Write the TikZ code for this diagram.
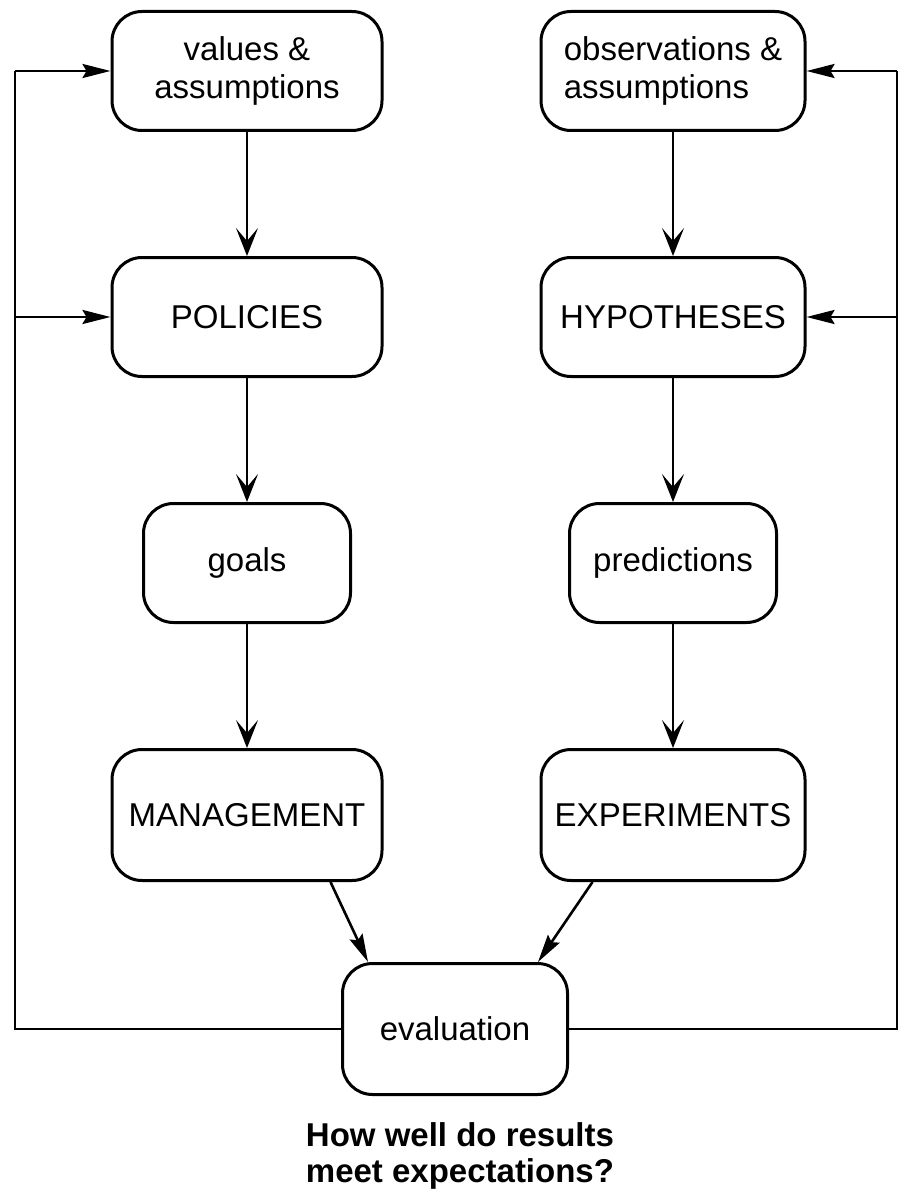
\documentclass[tikz,border=0pt]{standalone}
\usepackage{fontspec}
\setmainfont{Liberation Sans}
\usepackage{tikz}
\usetikzlibrary{positioning,arrows.meta}

\begin{document}
\begin{tikzpicture}[
    x=1pt, y=1pt,
    node distance=124pt,
    box/.style={rectangle, draw, line width=3pt, rounded corners=30pt, minimum width=270pt, minimum height=119pt, align=center, inner sep=0pt, font=\fontsize{33}{38}\selectfont},
    smallbox/.style={box, minimum width=207pt},
    lowbox/.style={box, minimum height=131pt},
    arrow/.style={-{Stealth[length=28pt, width=22pt, inset=13pt]}, line width=2.6pt},
    feedarrow/.style={-{Stealth[length=28pt, width=14pt, inset=4pt]}, line width=2.6pt},
    line/.style={line width=2.6pt}
]
\useasboundingbox (0,0) rectangle (899,-1193);

% Left column
\node[box] (values) at (247,-71) {values \&\\assumptions};
\node[box, below=of values] (policies) {POLICIES};
\node[smallbox, below=of policies] (goals) {goals};
\node[lowbox, below=of goals] (management) {MANAGEMENT};

% Right column
\node[box, align=left, minimum width=264pt] (observations) at (673,-71) {observations \&\\assumptions};
\node[box, minimum width=264pt, below=of observations] (hypotheses) {HYPOTHESES};
\node[smallbox, below=of hypotheses] (predictions) {predictions};
\node[lowbox, minimum width=264pt, below=of predictions] (experiments) {EXPERIMENTS};

% Bottom
\node[lowbox, minimum width=225pt] (evaluation) at (455,-1029) {evaluation};
\node[align=left, font=\fontsize{33}{36}\selectfont\bfseries] (question) at (460,-1156) {How well do results\\meet expectations?};

% Arrows down the columns
\draw[arrow] (values) -- (policies);
\draw[arrow] (policies) -- (goals);
\draw[arrow] (goals) -- (management);
\draw[arrow] (observations) -- (hypotheses);
\draw[arrow] (hypotheses) -- (predictions);
\draw[arrow] (predictions) -- (experiments);

% Arrows to evaluation
\draw[feedarrow] ([xshift=-53pt]management.south east) -- ([xshift=27pt]evaluation.north west);
\draw[feedarrow] ([xshift=53pt]experiments.south west) -- ([xshift=-31pt]evaluation.north east);

% Feedback loops
\coordinate (left-top) at (15,-71);
\coordinate (right-top) at (897,-71);
\draw[line] (evaluation.west) -| (left-top);
\draw[feedarrow] (left-top) -- (values.west);
\draw[feedarrow] (left-top |- policies.west) -- (policies.west);
\draw[line] (evaluation.east) -| (right-top);
\draw[feedarrow] (right-top) -- (observations.east);
\draw[feedarrow] (right-top |- hypotheses.east) -- (hypotheses.east);

\end{tikzpicture}
\end{document}
